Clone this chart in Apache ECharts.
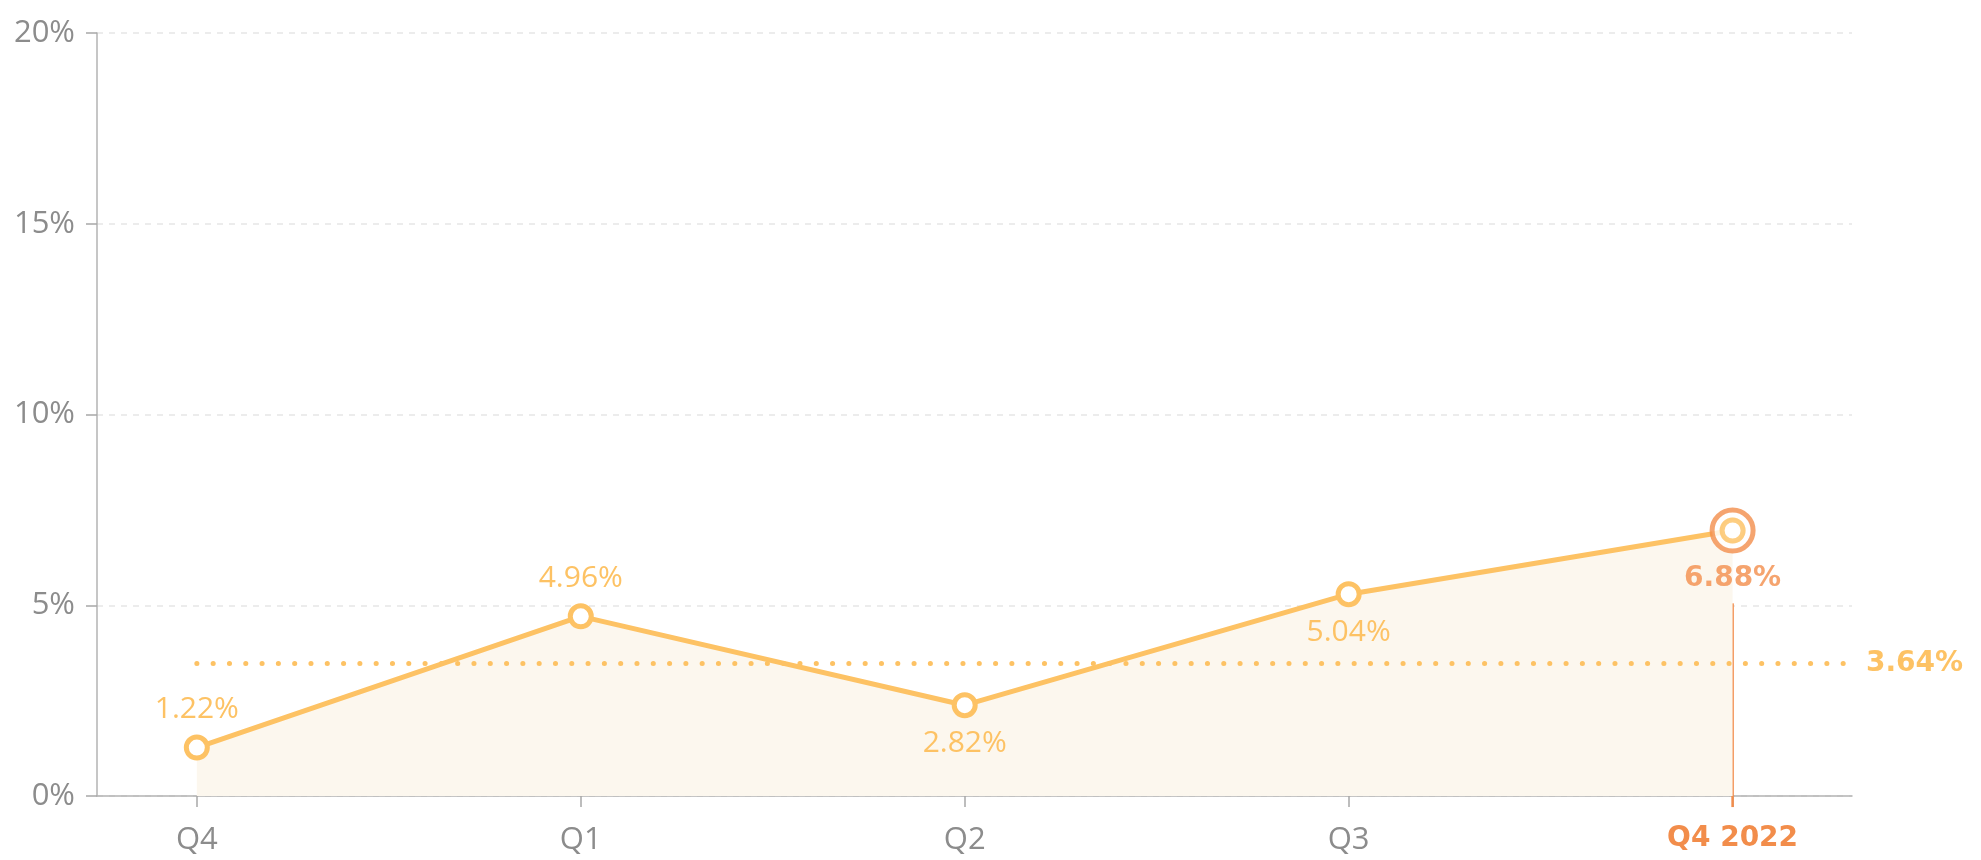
<!DOCTYPE html>
<html>
<head>
<meta charset="utf-8">
<script src="https://cdn.jsdelivr.net/npm/echarts@6/dist/echarts.min.js"></script>
<style>
  html, body { margin: 0; padding: 0; background: #fff; }
  #chart { width: 1981px; height: 860px; }
</style>
</head>
<body>
<div id="chart"></div>
<script>
// quarters and values
var quarters = ['Q4', 'Q1', 'Q2', 'Q3', 'Q4 2022'];
var values = [1.27, 4.71, 2.38, 5.29, 6.96];
var valueLabels = ['1.22%', '4.96%', '2.82%', '5.04%', '6.88%'];
var labelSide = ['top', 'top', 'bottom', 'bottom', 'bottom'];
var average = 3.48;
var averageLabel = '3.64%';
var yTicks = [0, 5, 10, 15, 20];

var YELLOW = '#fdc264';
var ORANGE = '#f28d4b';
var GREY = '#8c8c8c';
var FONT = 'Open Sans';
var BOLD_FONT = 'DejaVu Sans';

var xMin = -0.26, xMax = 4.311;
var last = quarters.length - 1;

var lineData = values.map(function (v, i) {
  return {
    value: [i, v],
    label: { position: labelSide[i], formatter: valueLabels[i], show: i !== last }
  };
});

var chart = echarts.init(document.getElementById('chart'));
chart.setOption({
  animation: false,
  grid: { left: 97, right: 129, top: 33, bottom: 64 },
  xAxis: {
    type: 'value',
    min: xMin,
    max: xMax,
    splitLine: { show: false },
    axisLine: { show: true, lineStyle: { color: '#b3b3b3', width: 1.5 } },
    axisTick: {
      show: true, length: 11, customValues: [0, 1, 2, 3, 4],
      lineStyle: { color: '#a8a8a8', width: 1.5 }
    },
    axisLabel: {
      customValues: [0, 1, 2, 3, 4],
      margin: 29,
      fontFamily: FONT, fontSize: 31, color: GREY,
      formatter: function (v) {
        var i = Math.round(v);
        return i === last ? '{hl|' + quarters[i] + '}' : quarters[i];
      },
      rich: {
        hl: { fontFamily: BOLD_FONT, fontWeight: 'bold', fontSize: 28, color: ORANGE }
      }
    }
  },
  yAxis: {
    type: 'value',
    min: yTicks[0],
    max: yTicks[yTicks.length - 1],
    interval: 5,
    axisLine: { show: true, onZero: false, lineStyle: { color: '#b3b3b3', width: 1.5 } },
    axisTick: { show: true, length: 11, lineStyle: { color: '#a8a8a8', width: 1.5 } },
    splitLine: { show: true, lineStyle: { color: '#e6e6e6', type: [6, 6], width: 1.5 } },
    axisLabel: {
      margin: 22,
      fontFamily: FONT, fontSize: 31, color: GREY,
      formatter: '{value}%'
    }
  },
  series: [
    {
      type: 'line',
      data: lineData,
      z: 2,
      symbol: 'circle',
      symbolSize: 21,
      lineStyle: { color: YELLOW, width: 5 },
      itemStyle: { color: '#fff', borderColor: YELLOW, borderWidth: 5 },
      areaStyle: { color: '#fcf7ee', opacity: 1 },
      label: {
        show: true, distance: 10,
        fontFamily: FONT, fontSize: 30, color: YELLOW
      },
      markLine: {
        silent: true,
        symbol: 'none',
        lineStyle: { color: YELLOW, width: 5, type: [0.1, 16.2], cap: 'round' },
        label: {
          show: true, position: 'end', distance: 14,
          formatter: averageLabel,
          fontFamily: BOLD_FONT, fontWeight: 'bold', fontSize: 28, color: YELLOW
        },
        data: [[{ coord: [0, average] }, { coord: [xMax, average] }]]
      }
    },
    {
      // current quarter marker line down to the axis tick
      type: 'line',
      clip: false,
      z: 1,
      symbol: 'none',
      silent: true,
      lineStyle: { color: ORANGE, width: 2.5 },
      data: [[last, 5.05], [last, -0.29]]
    },
    {
      type: 'scatter',
      z: 3,
      data: [[last, values[last]]],
      symbolSize: 41,
      itemStyle: { color: '#fff', borderColor: ORANGE, borderWidth: 5 },
      label: {
        show: true, position: 'bottom', distance: 11,
        formatter: valueLabels[last],
        fontFamily: BOLD_FONT, fontWeight: 'bold', fontSize: 28, color: ORANGE
      }
    },
    {
      type: 'scatter',
      z: 4,
      data: [[last, values[last]]],
      symbolSize: 21,
      itemStyle: { color: '#fff', borderColor: YELLOW, borderWidth: 5 }
    }
  ]
});
</script>
</body>
</html>
